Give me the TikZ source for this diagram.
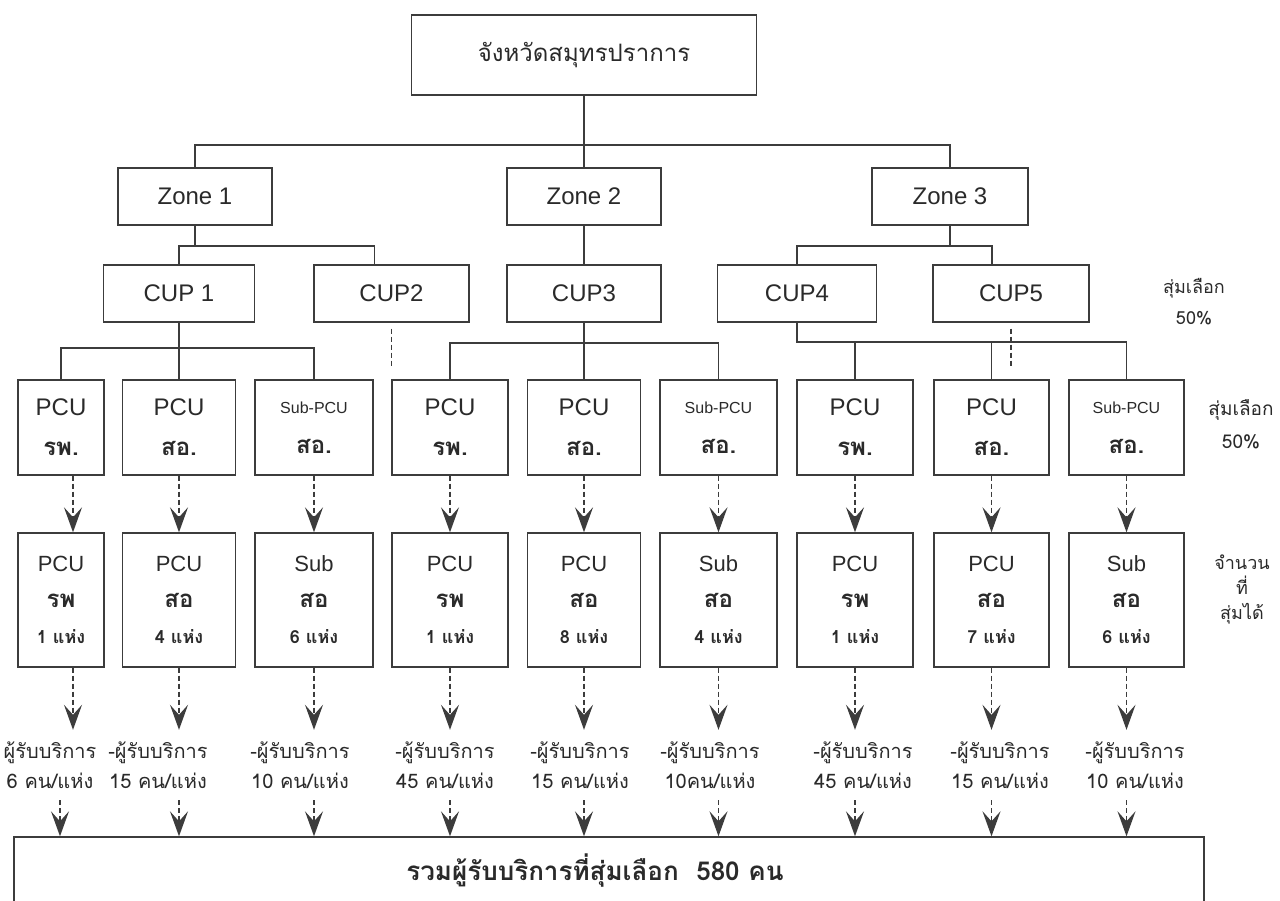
\documentclass[tikz,border=0pt]{standalone}
\usepackage{fontspec}
\setmainfont{Liberation Sans}
\newfontfamily\thai[Script=Thai]{Loma}
\usetikzlibrary{arrows.meta}
\definecolor{linec}{HTML}{3C3C3C}
\definecolor{textc}{HTML}{2A2A2A}
\begin{document}
\begin{tikzpicture}[x=1pt,y=-1pt,
  ln/.style={draw=linec, line width=1.4pt},
  box/.style={ln, inner sep=0pt, align=center, text=textc},
  bigbox/.style={box, font=\fontsize{24}{28}\selectfont},
  rowa/.style={box, minimum height=95pt, font=\fontsize{24}{40}\selectfont},
  rowb/.style={box, minimum height=134pt, font=\fontsize{22}{36}\selectfont},
  ptxt/.style={inner sep=0pt, align=center, text=textc, minimum height=70pt, font=\thai\fontsize{20}{30}\selectfont},
  side/.style={inner sep=0pt, align=center, text=textc},
  dsh/.style={ln, dash pattern=on 5pt off 3pt},
  arr/.style={dsh, -{Stealth[length=25pt,width=18pt,inset=10pt]}}]
\useasboundingbox (0,0) rectangle (1280,901);
\clip (0,0) rectangle (1280,901);
\fill[white] (0,0) rectangle (1280,901);

% top
\node[box, minimum width=345pt, minimum height=80pt] (top) at (584,55) {\thai\fontsize{24}{28}\selectfont จังหวัดสมุทรปราการ};

% zones
\node[bigbox, minimum width=154pt, minimum height=57pt] (z1) at (195,196.5) {Zone 1};
\node[bigbox, minimum width=154pt, minimum height=57pt] (z2) at (584,196.5) {Zone 2};
\node[bigbox, minimum width=156pt, minimum height=57pt] (z3) at (950,196.5) {Zone 3};

% CUPs
\node[bigbox, minimum width=151pt, minimum height=57pt] (cup1) at (179,293.5) {CUP 1};
\node[bigbox, minimum width=155pt, minimum height=57pt] (cup2) at (391.5,293.5) {CUP2};
\node[bigbox, minimum width=154pt, minimum height=57pt] (cup3) at (584,293.5) {CUP3};
\node[bigbox, minimum width=159pt, minimum height=57pt] (cup4) at (797,293.5) {CUP4};
\node[bigbox, minimum width=156pt, minimum height=57pt] (cup5) at (1011,293.5) {CUP5};

% row 1
\node[rowa, minimum width=86pt] (p1) at (61,427.5) {PCU\\{\thai\bfseries\fontsize{24}{40}\selectfont รพ.}};
\node[rowa, minimum width=113pt] (p2) at (179,427.5) {PCU\\{\thai\bfseries\fontsize{24}{40}\selectfont สอ.}};
\node[rowa, minimum width=118pt] (p3) at (314,427.5) {{\fontsize{16}{40}\selectfont Sub-PCU}\\{\thai\bfseries\fontsize{24}{40}\selectfont สอ.}};
\node[rowa, minimum width=116pt] (p4) at (450,427.5) {PCU\\{\thai\bfseries\fontsize{24}{40}\selectfont รพ.}};
\node[rowa, minimum width=113pt] (p5) at (584,427.5) {PCU\\{\thai\bfseries\fontsize{24}{40}\selectfont สอ.}};
\node[rowa, minimum width=117pt] (p6) at (718.5,427.5) {{\fontsize{16}{40}\selectfont Sub-PCU}\\{\thai\bfseries\fontsize{24}{40}\selectfont สอ.}};
\node[rowa, minimum width=116pt] (p7) at (855,427.5) {PCU\\{\thai\bfseries\fontsize{24}{40}\selectfont รพ.}};
\node[rowa, minimum width=115pt] (p8) at (991.5,427.5) {PCU\\{\thai\bfseries\fontsize{24}{40}\selectfont สอ.}};
\node[rowa, minimum width=115pt] (p9) at (1126.5,427.5) {{\fontsize{16}{40}\selectfont Sub-PCU}\\{\thai\bfseries\fontsize{24}{40}\selectfont สอ.}};

% row 2
\node[rowb, minimum width=86pt] (q1) at (61,600) {PCU\\{\thai\bfseries\fontsize{24}{36}\selectfont รพ}\\{\thai\bfseries\fontsize{18}{36}\selectfont 1 แห่ง}};
\node[rowb, minimum width=113pt] (q2) at (179,600) {PCU\\{\thai\bfseries\fontsize{24}{36}\selectfont สอ}\\{\thai\bfseries\fontsize{18}{36}\selectfont 4 แห่ง}};
\node[rowb, minimum width=118pt] (q3) at (314,600) {Sub\\{\thai\bfseries\fontsize{24}{36}\selectfont สอ}\\{\thai\bfseries\fontsize{18}{36}\selectfont 6 แห่ง}};
\node[rowb, minimum width=116pt] (q4) at (450,600) {PCU\\{\thai\bfseries\fontsize{24}{36}\selectfont รพ}\\{\thai\bfseries\fontsize{18}{36}\selectfont 1 แห่ง}};
\node[rowb, minimum width=113pt] (q5) at (584,600) {PCU\\{\thai\bfseries\fontsize{24}{36}\selectfont สอ}\\{\thai\bfseries\fontsize{18}{36}\selectfont 8 แห่ง}};
\node[rowb, minimum width=117pt] (q6) at (718.5,600) {Sub\\{\thai\bfseries\fontsize{24}{36}\selectfont สอ}\\{\thai\bfseries\fontsize{18}{36}\selectfont 4 แห่ง}};
\node[rowb, minimum width=116pt] (q7) at (855,600) {PCU\\{\thai\bfseries\fontsize{24}{36}\selectfont รพ}\\{\thai\bfseries\fontsize{18}{36}\selectfont 1 แห่ง}};
\node[rowb, minimum width=115pt] (q8) at (991.5,600) {PCU\\{\thai\bfseries\fontsize{24}{36}\selectfont สอ}\\{\thai\bfseries\fontsize{18}{36}\selectfont 7 แห่ง}};
\node[rowb, minimum width=115pt] (q9) at (1126.5,600) {Sub\\{\thai\bfseries\fontsize{24}{36}\selectfont สอ}\\{\thai\bfseries\fontsize{18}{36}\selectfont 6 แห่ง}};

% participant texts
\node[ptxt] (t1) at (50,765) {ผู้รับบริการ\\6 คน/แห่ง};
\node[ptxt] (t2) at (158,765) {-ผู้รับบริการ\\15 คน/แห่ง};
\node[ptxt] (t3) at (300,765) {-ผู้รับบริการ\\10 คน/แห่ง};
\node[ptxt] (t4) at (445,765) {-ผู้รับบริการ\\45 คน/แห่ง};
\node[ptxt] (t5) at (580,765) {-ผู้รับบริการ\\15 คน/แห่ง};
\node[ptxt] (t6) at (710,765) {-ผู้รับบริการ\\10คน/แห่ง};
\node[ptxt] (t7) at (863,765) {-ผู้รับบริการ\\45 คน/แห่ง};
\node[ptxt] (t8) at (1000,765) {-ผู้รับบริการ\\15 คน/แห่ง};
\node[ptxt] (t9) at (1135,765) {-ผู้รับบริการ\\10 คน/แห่ง};

% total
\node[box, minimum width=1190pt, minimum height=68pt] (tot) at (609,871) {\hspace*{-28pt}\thai\bfseries\fontsize{26}{30}\selectfont รวมผู้รับบริการที่สุ่มเลือก\ \ 580 คน};

% side labels
\node[side, font=\thai\fontsize{18}{31}\selectfont] (s1) at (1194,302) {สุ่มเลือก\\50\%};
\node[side, font=\thai\fontsize{19}{33}\selectfont] (s2) at (1241,424) {สุ่มเลือก\\50\%};
\node[side, font=\thai\fontsize{18}{25}\selectfont] (s3) at (1242,590) {จำนวน\\ที่\\สุ่มได้};

% tree connectors
\coordinate (b0) at (584,145);
\draw[ln] (top.south) -- (b0);
\draw[ln] (z1.north) |- (b0) -| (z3.north);
\draw[ln] (b0) -- (z2.north);

\coordinate (b1) at (195,246);
\draw[ln] (z1.south) -- (b1);
\draw[ln] (cup1.north) |- (b1) -| ([xshift=-17pt]cup2.north);
\draw[ln] (z2.south) -- (cup3.north);
\coordinate (b3) at (950,246);
\draw[ln] (z3.south) -- (b3);
\draw[ln] (cup4.north) |- (b3) -| ([xshift=-19pt]cup5.north);

\coordinate (c1) at (179,348);
\draw[ln] (cup1.south) -- (p2.north);
\draw[ln] (p1.north) |- (c1) -| (p3.north);
\coordinate (c3) at (584,343);
\draw[ln] (cup3.south) -- (p5.north);
\draw[ln] (p4.north) |- (c3) -| (p6.north);
\coordinate (c4) at (797,342);
\draw[ln] (cup4.south) -- (c4) -| (p9.north);
\draw[ln] (p7.north) -- (p7.north |- c4);
\draw[ln] (p8.north) -- (p8.north |- c4);

\coordinate (d2) at (391.5,368);
\draw[dsh] ([yshift=-6pt]cup2.south) -- (d2);
\coordinate (d5) at (1011,366);
\draw[dsh] ([yshift=-6pt]cup5.south) -- (d5);

% arrows row1 -> row2
\draw[arr] ([xshift=12pt]p1.south) -- ([xshift=12pt]q1.north);
\foreach \i in {2,...,9} { \draw[arr] (p\i.south) -- (q\i.north); }
% row2 -> texts
\draw[arr] ([xshift=12pt]q1.south) -- ([xshift=12pt]q1.south |- t1.north);
\foreach \i in {2,...,9} { \draw[arr] (q\i.south) -- (q\i.south |- t1.north); }
% texts -> total
\draw[arr] ([xshift=10pt]t1.south) -- ([xshift=10pt]t1.south |- tot.north);
\foreach \i in {2,...,9} { \draw[arr] (q\i.south |- t\i.south) -- (q\i.south |- tot.north); }
\end{tikzpicture}
\end{document}
